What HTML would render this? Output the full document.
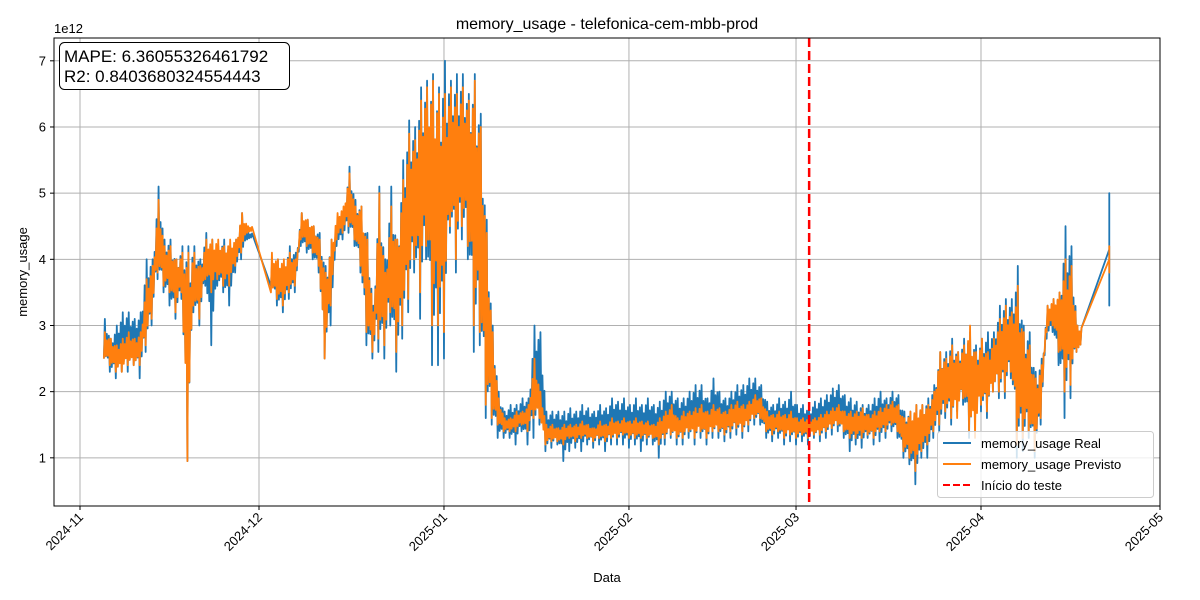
<!DOCTYPE html>
<html><head><meta charset="utf-8"><style>
html,body{margin:0;padding:0;background:#fff;}
svg{display:block;font-family:"Liberation Sans","DejaVu Sans",sans-serif;}
</style></head><body>
<svg id="chart" width="1200" height="600" xmlns="http://www.w3.org/2000/svg">
<rect x="0" y="0" width="1200" height="600" fill="#fff"/>
<g id="grid"></g>
<g id="series"></g>
<rect x="54" y="38" width="1106" height="468" fill="none" stroke="#000" stroke-width="1"/>
<g id="axes"></g>
<text x="607" y="29" text-anchor="middle" font-size="16">memory_usage - telefonica-cem-mbb-prod</text>
<text x="54" y="33" font-size="13">1e12</text>
<text x="607" y="582" text-anchor="middle" font-size="13">Data</text>
<text transform="translate(27,272) rotate(-90)" text-anchor="middle" font-size="13">memory_usage</text>
<g>
<rect x="59.5" y="42.5" width="230" height="47" rx="5" fill="#fff" stroke="#000" stroke-width="1"/>
<text x="64" y="62" font-size="17">MAPE: 6.36055326461792</text>
<text x="64" y="82" font-size="17">R2: 0.8403680324554443</text>
</g>
<g>
<rect x="937.5" y="431.5" width="216" height="66" rx="3" fill="#fff" fill-opacity="0.8" stroke="#ccc" stroke-width="1"/>
<line x1="943" y1="443" x2="971" y2="443" stroke="#1f77b4" stroke-width="2"/>
<text x="981" y="448" font-size="13">memory_usage Real</text>
<line x1="943" y1="464" x2="971" y2="464" stroke="#ff7f0e" stroke-width="2"/>
<text x="981" y="469" font-size="13">memory_usage Previsto</text>
<line x1="943" y1="485" x2="971" y2="485" stroke="#f00" stroke-width="2" stroke-dasharray="7,3"/>
<text x="981" y="490" font-size="13">Início do teste</text>
</g>
</svg>
<script>
// days since 2024-11-01
const days=[4,5,6,7,8,9,10,11,12,13,14,15,16,17,18,19,20,21,22,23,24,25,26,27,28,
32,33,34,35,36,37,38,39,40,41,42,43,44,45,46,47,48,49,50,51,52,53,54,55,56,57,58,59,60,61,62,63,64,65,66,67,68,69,70,71,72,73,74,75,76,77,78,
79,80,81,82,83,84,85,86,87,88,89,90,91,92,93,94,95,96,97,98,99,100,101,102,103,104,105,106,107,108,109,110,111,112,113,114,115,116,117,118,
119,120,121,122,123,124,125,126,127,128,129,130,131,132,133,134,135,136,137,138,139,140,141,142,143,144,145,146,147,148,149,150,151,152,153,154,155,156,157,158,159,160,161,162,163,164,165,166,167,172.5];
const realMin=[2.5,2.3,2.2,2.3,2.3,2.4,2.2,2.6,3.0,3.7,3.5,3.3,3.1,3.4,0.95,3.2,3.0,3.6,2.7,3.6,3.5,3.3,3.8,4.0,4.3,
3.6,3.3,3.2,3.4,3.5,4.2,4.1,4.0,3.8,2.5,3.0,4.2,4.3,4.4,4.2,3.8,2.7,2.5,2.6,2.5,3.0,2.3,2.8,3.2,3.8,3.1,4.0,2.4,2.4,2.5,4.4,3.8,4.3,4.0,2.6,2.7,1.6,1.5,1.3,1.3,1.3,1.2,1.4,1.2,1.3,1.5,1.1,
1.15,1.2,0.95,1.1,1.15,1.1,1.2,1.15,1.2,1.1,1.2,1.2,1.2,1.15,1.2,1.1,1.2,1.2,1.0,1.2,1.3,1.2,1.2,1.3,1.2,1.3,1.2,1.3,1.3,1.25,1.3,1.35,1.3,1.4,1.5,1.5,1.3,1.25,1.3,1.2,
1.25,1.2,1.25,1.2,1.3,1.25,1.3,1.35,1.4,1.3,1.1,1.2,1.15,1.3,1.2,1.25,1.3,1.4,1.3,1.0,0.9,0.6,1.0,1.0,1.3,1.4,1.6,1.5,1.7,1.8,1.3,1.5,1.7,1.6,2.0,1.9,1.9,2.2,1.0,1.1,1.3,1.0,1.5,2.8,2.9,2.4,1.6,1.9,2.6,3.3];
const realMax=[3.1,2.8,3.0,3.2,3.2,3.1,3.2,4.0,4.0,5.1,4.3,4.3,4.0,4.2,4.2,4.2,4.0,4.4,4.3,4.2,4.3,4.2,4.3,4.7,4.4,
3.9,4.0,3.9,4.2,4.1,4.7,4.6,4.5,4.4,3.9,4.3,4.6,4.7,5.4,4.9,4.8,4.4,3.3,5.1,4.0,5.1,4.3,5.5,6.1,6.0,6.6,6.7,6.8,6.6,7.0,6.7,6.8,6.8,6.5,6.8,6.2,4.6,3.0,2.0,1.7,1.8,1.8,1.9,1.9,3.0,2.9,1.7,
1.7,1.7,1.7,1.75,1.7,1.8,1.75,1.7,1.8,1.75,1.9,1.85,1.9,1.8,1.9,1.8,1.9,1.8,1.85,2.0,2.0,1.9,1.9,2.0,2.1,2.1,1.9,2.2,2.0,1.9,2.0,2.1,2.1,2.2,2.2,2.1,1.85,1.8,1.9,1.85,
2.0,1.8,1.8,1.75,1.85,1.9,1.95,2.05,2.1,1.95,1.9,1.85,1.8,1.8,1.9,2.0,1.9,2.0,1.95,1.7,1.7,1.8,1.8,1.9,2.1,2.6,2.6,2.8,2.6,2.8,2.9,2.7,2.8,2.9,2.9,3.3,3.4,3.4,3.9,3.0,2.9,2.3,2.5,3.3,3.4,3.5,4.5,4.2,3.0,5.0];
const predMin=[2.5,2.4,2.3,2.3,2.4,2.4,2.4,2.7,3.1,3.8,3.6,3.5,3.2,3.5,0.95,3.3,3.1,3.7,3.5,3.7,3.6,3.6,3.9,4.1,4.4,
3.5,3.4,3.3,3.5,3.6,4.3,4.2,4.1,3.9,2.5,3.3,4.3,4.4,4.5,4.3,3.9,2.9,2.6,2.8,2.7,3.2,2.6,3.0,3.4,4.0,3.5,4.2,3.0,3.0,2.9,4.5,4.0,4.5,4.2,3.0,2.9,1.8,1.6,1.5,1.4,1.4,1.4,1.5,1.4,1.6,1.6,1.2,
1.25,1.25,1.2,1.3,1.25,1.3,1.3,1.25,1.3,1.25,1.3,1.3,1.35,1.3,1.3,1.3,1.3,1.3,1.2,1.3,1.35,1.3,1.3,1.4,1.3,1.4,1.3,1.4,1.4,1.35,1.4,1.45,1.4,1.5,1.6,1.6,1.4,1.35,1.4,1.3,
1.35,1.3,1.35,1.3,1.35,1.35,1.4,1.45,1.5,1.4,1.3,1.3,1.3,1.35,1.3,1.4,1.4,1.5,1.4,1.1,1.0,0.8,1.1,1.2,1.4,1.5,1.7,1.6,1.6,1.9,1.4,1.3,1.8,1.7,2.0,2.0,2.0,2.3,1.2,1.3,1.4,1.1,1.6,2.9,3.0,2.6,2.0,2.1,2.6,3.8];
const predMax=[2.9,2.8,2.7,2.8,2.9,2.8,2.9,3.7,3.9,4.9,4.2,4.2,4.0,4.1,4.1,4.1,3.9,4.3,4.3,4.3,4.2,4.3,4.3,4.7,4.5,
4.1,4.0,4.0,4.1,4.0,4.7,4.6,4.5,4.3,3.8,4.3,4.7,4.8,5.3,4.8,4.8,4.3,3.2,5.0,3.8,4.8,4.3,5.2,5.9,5.8,6.4,6.6,6.7,6.5,6.5,6.6,6.5,6.6,6.4,6.7,6.0,4.4,2.9,1.9,1.6,1.6,1.7,1.7,1.8,2.5,2.0,1.5,
1.5,1.45,1.5,1.5,1.5,1.55,1.5,1.45,1.55,1.5,1.6,1.55,1.6,1.55,1.6,1.55,1.55,1.5,1.6,1.7,1.8,1.6,1.7,1.7,1.75,1.8,1.7,1.8,1.75,1.7,1.8,1.85,1.8,1.85,1.95,1.9,1.7,1.65,1.7,1.65,
1.7,1.6,1.6,1.6,1.6,1.65,1.7,1.75,1.8,1.7,1.7,1.7,1.75,1.65,1.7,1.75,1.8,1.85,1.8,1.6,1.7,1.8,1.8,1.8,2.0,2.6,2.5,2.7,2.6,2.7,3.0,2.6,2.8,2.6,2.8,3.1,3.3,3.2,3.6,2.9,2.7,2.2,2.4,3.3,3.4,3.5,4.0,3.9,3.0,4.2];
const yTicks=[1,2,3,4,5,6,7];
const xTickDays=[0,30,61,92,120,151,181];
const xTickLabels=["2024-11","2024-12","2025-01","2025-02","2025-03","2025-04","2025-05"];
const testStartDay=122.2;

const NS="http://www.w3.org/2000/svg";
function xs(d){return 80+d*(1080/181);}
function ys(v){return 524-v*66.17;}
function mk(tag,attrs,parent){const e=document.createElementNS(NS,tag);for(const k in attrs)e.setAttribute(k,attrs[k]);parent.appendChild(e);return e;}
const grid=document.getElementById('grid'),axes=document.getElementById('axes'),series=document.getElementById('series');
yTicks.forEach(v=>{
  const y=ys(v);
  const g=mk('line',{x1:54,x2:1160,y1:y,y2:y,stroke:'#b0b0b0','stroke-width':1},grid);
  
  
  const t=mk('line',{x1:50,x2:54,y1:y,y2:y,stroke:'#000'},axes);
  
  
  const l=mk('text',{x:46,y:y+4.5,'text-anchor':'end','font-size':13},axes);
  l.textContent=v;
  
  
});
xTickDays.forEach((d,i)=>{
  const x=xs(d);
  const g=mk('line',{x1:x,x2:x,y1:38,y2:506,stroke:'#b0b0b0','stroke-width':1},grid);
  
  
  const t=mk('line',{x1:x,x2:x,y1:506,y2:510,stroke:'#000'},axes);
  
  
  const l=mk('text',{transform:`translate(${x+4},${518}) rotate(-45)`,'text-anchor':'end','font-size':13},axes);
  l.textContent=xTickLabels[i];
  
  
});
// within-day oscillation shape: fraction of the day's range reached at each swing
const peakFrac=[1,0.55,0.8];
const troughFrac=[1,0.65,0.45];
function path(mins,maxs,color,name){
  let pts=[];
  const n=peakFrac.length;
  days.forEach((d,i)=>{
    const last=i===days.length-1;
    if(last){
      const mid=(mins[i]+maxs[i])/2;
      pts.push([xs(d),ys(mid)]);pts.push([xs(d),ys(maxs[i])]);pts.push([xs(d),ys(mins[i])]);pts.push([xs(d),ys(mid)]);
      return;
    }
    const nextGap=days[i+1]-d;
    const span=Math.min(nextGap,1);
    for(let k=0;k<n;k++){
      const f=k/n, j=nextGap>1.5?0:f;
      const lo=mins[i]+(mins[i+1]-mins[i])*j, hi=maxs[i]+(maxs[i+1]-maxs[i])*j;
      const mid=(lo+hi)/2;
      pts.push([xs(d+f*span),ys(mid-(mid-lo)*troughFrac[k])]);
      pts.push([xs(d+(f+0.5/n)*span),ys(mid+(hi-mid)*peakFrac[k])]);
    }
  });
  const p=mk('path',{d:'M'+pts.map(p=>p[0].toFixed(2)+','+p[1].toFixed(1)).join('L'),fill:'none',stroke:color,'stroke-width':1.8,'stroke-linejoin':'round'},series);
  
  
}
path(realMin,realMax,'#1f77b4','real-series-line');
path(predMin,predMax,'#ff7f0e','predicted-series-line');
const tl=mk('line',{x1:xs(testStartDay),x2:xs(testStartDay),y1:38,y2:506,stroke:'#f00','stroke-width':2.5,'stroke-dasharray':'9,4'},series);


</script>
</body></html>
